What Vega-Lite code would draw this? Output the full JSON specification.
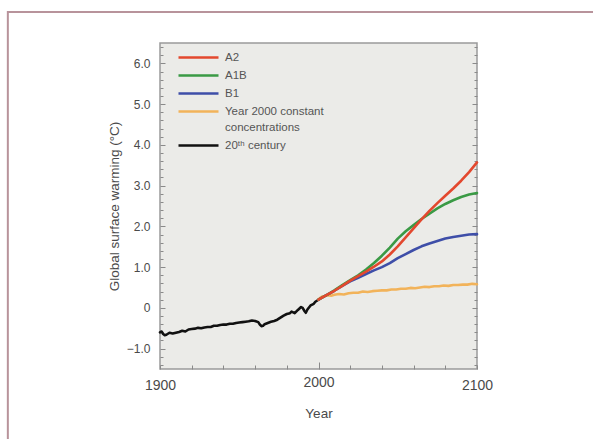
{
  "$schema": "https://vega.github.io/schema/vega-lite/v6.json",
  "autosize": {"type": "none"},
  "width": 317,
  "height": 326,
  "padding": {"left": 160, "top": 43, "right": 116, "bottom": 70},
  "background": "#ffffff",
  "config": {
    "font": "Liberation Sans",
    "view": {"fill": "#ebebe8", "stroke": "#9a9a9a", "strokeWidth": 1.5},
    "axis": {
      "domain": false,
      "grid": false,
      "labelFont": "Liberation Sans",
      "titleFont": "Liberation Sans",
      "labelColor": "#4a4a4a",
      "titleColor": "#4a4a4a",
      "titleFontWeight": "normal",
      "tickColor": "#8a8a8a",
      "tickWidth": 1,
      "labelOverlap": false
    }
  },
  "layer": [
    {
      "data": {"values": [{"frame": "outer"}]},
      "mark": {"type": "rect", "filled": false, "stroke": "#b8939b", "strokeWidth": 2},
      "encoding": {
        "x": {"datum": 1804, "type": "quantitative", "scale": {"domain": [1900, 2100], "nice": false, "zero": false}, "axis": null},
        "x2": {"datum": 2200},
        "y": {
          "datum": 7.26, "type": "quantitative",
          "scale": {"domain": [-1.5, 6.5], "nice": false, "zero": false},
          "axis": {
            "orient": "right",
            "title": null,
            "labels": false,
            "values": [-1.4,-1.2,-1,-0.8,-0.6,-0.4,-0.2,0,0.2,0.4,0.6,0.8,1,1.2,1.4,1.6,1.8,2,2.2,2.4,2.6,2.8,3,3.2,3.4,3.6,3.8,4,4.2,4.4,4.6,4.8,5,5.2,5.4,5.6,5.8,6,6.2,6.4],
            "tickSize": {"condition": {"test": "abs(datum.value - round(datum.value)) < 0.01", "value": -5}, "value": -3}
          }
        },
        "y2": {"datum": -4}
      }
    },
    {
      "data": {"values": [
        {"series": "20th century", "year": 1900, "warming": -0.60},
        {"series": "20th century", "year": 1901, "warming": -0.58},
        {"series": "20th century", "year": 1902, "warming": -0.64},
        {"series": "20th century", "year": 1903, "warming": -0.67},
        {"series": "20th century", "year": 1904, "warming": -0.66},
        {"series": "20th century", "year": 1906, "warming": -0.61},
        {"series": "20th century", "year": 1908, "warming": -0.63},
        {"series": "20th century", "year": 1910, "warming": -0.61},
        {"series": "20th century", "year": 1912, "warming": -0.59},
        {"series": "20th century", "year": 1914, "warming": -0.56},
        {"series": "20th century", "year": 1916, "warming": -0.58},
        {"series": "20th century", "year": 1918, "warming": -0.53},
        {"series": "20th century", "year": 1920, "warming": -0.52},
        {"series": "20th century", "year": 1922, "warming": -0.51},
        {"series": "20th century", "year": 1924, "warming": -0.49},
        {"series": "20th century", "year": 1926, "warming": -0.50},
        {"series": "20th century", "year": 1928, "warming": -0.48},
        {"series": "20th century", "year": 1930, "warming": -0.47},
        {"series": "20th century", "year": 1932, "warming": -0.47},
        {"series": "20th century", "year": 1934, "warming": -0.44},
        {"series": "20th century", "year": 1936, "warming": -0.44},
        {"series": "20th century", "year": 1938, "warming": -0.42},
        {"series": "20th century", "year": 1940, "warming": -0.41},
        {"series": "20th century", "year": 1942, "warming": -0.41},
        {"series": "20th century", "year": 1944, "warming": -0.39},
        {"series": "20th century", "year": 1946, "warming": -0.39},
        {"series": "20th century", "year": 1948, "warming": -0.37},
        {"series": "20th century", "year": 1950, "warming": -0.36},
        {"series": "20th century", "year": 1952, "warming": -0.35},
        {"series": "20th century", "year": 1954, "warming": -0.34},
        {"series": "20th century", "year": 1956, "warming": -0.33},
        {"series": "20th century", "year": 1958, "warming": -0.31},
        {"series": "20th century", "year": 1960, "warming": -0.32},
        {"series": "20th century", "year": 1962, "warming": -0.35},
        {"series": "20th century", "year": 1963, "warming": -0.41},
        {"series": "20th century", "year": 1964, "warming": -0.45},
        {"series": "20th century", "year": 1965, "warming": -0.44},
        {"series": "20th century", "year": 1966, "warming": -0.40},
        {"series": "20th century", "year": 1968, "warming": -0.37},
        {"series": "20th century", "year": 1970, "warming": -0.34},
        {"series": "20th century", "year": 1972, "warming": -0.32},
        {"series": "20th century", "year": 1974, "warming": -0.29},
        {"series": "20th century", "year": 1976, "warming": -0.24},
        {"series": "20th century", "year": 1978, "warming": -0.19},
        {"series": "20th century", "year": 1980, "warming": -0.15},
        {"series": "20th century", "year": 1982, "warming": -0.13},
        {"series": "20th century", "year": 1983, "warming": -0.09},
        {"series": "20th century", "year": 1985, "warming": -0.13},
        {"series": "20th century", "year": 1987, "warming": -0.05},
        {"series": "20th century", "year": 1989, "warming": 0.02},
        {"series": "20th century", "year": 1990, "warming": 0.00},
        {"series": "20th century", "year": 1991, "warming": -0.07},
        {"series": "20th century", "year": 1992, "warming": -0.12},
        {"series": "20th century", "year": 1993, "warming": -0.04},
        {"series": "20th century", "year": 1995, "warming": 0.06},
        {"series": "20th century", "year": 1997, "warming": 0.10},
        {"series": "20th century", "year": 1998, "warming": 0.15},
        {"series": "20th century", "year": 2000, "warming": 0.20},

        {"series": "Year 2000 constant concentrations", "year": 2000, "warming": 0.21},
        {"series": "Year 2000 constant concentrations", "year": 2002, "warming": 0.27},
        {"series": "Year 2000 constant concentrations", "year": 2004, "warming": 0.29},
        {"series": "Year 2000 constant concentrations", "year": 2006, "warming": 0.31},
        {"series": "Year 2000 constant concentrations", "year": 2008, "warming": 0.30},
        {"series": "Year 2000 constant concentrations", "year": 2010, "warming": 0.32},
        {"series": "Year 2000 constant concentrations", "year": 2013, "warming": 0.34},
        {"series": "Year 2000 constant concentrations", "year": 2016, "warming": 0.33},
        {"series": "Year 2000 constant concentrations", "year": 2019, "warming": 0.36},
        {"series": "Year 2000 constant concentrations", "year": 2022, "warming": 0.37},
        {"series": "Year 2000 constant concentrations", "year": 2025, "warming": 0.37},
        {"series": "Year 2000 constant concentrations", "year": 2028, "warming": 0.40},
        {"series": "Year 2000 constant concentrations", "year": 2031, "warming": 0.39},
        {"series": "Year 2000 constant concentrations", "year": 2034, "warming": 0.41},
        {"series": "Year 2000 constant concentrations", "year": 2037, "warming": 0.42},
        {"series": "Year 2000 constant concentrations", "year": 2040, "warming": 0.43},
        {"series": "Year 2000 constant concentrations", "year": 2043, "warming": 0.43},
        {"series": "Year 2000 constant concentrations", "year": 2046, "warming": 0.45},
        {"series": "Year 2000 constant concentrations", "year": 2049, "warming": 0.45},
        {"series": "Year 2000 constant concentrations", "year": 2052, "warming": 0.47},
        {"series": "Year 2000 constant concentrations", "year": 2055, "warming": 0.47},
        {"series": "Year 2000 constant concentrations", "year": 2058, "warming": 0.49},
        {"series": "Year 2000 constant concentrations", "year": 2061, "warming": 0.48},
        {"series": "Year 2000 constant concentrations", "year": 2064, "warming": 0.50},
        {"series": "Year 2000 constant concentrations", "year": 2067, "warming": 0.52},
        {"series": "Year 2000 constant concentrations", "year": 2070, "warming": 0.51},
        {"series": "Year 2000 constant concentrations", "year": 2073, "warming": 0.53},
        {"series": "Year 2000 constant concentrations", "year": 2076, "warming": 0.53},
        {"series": "Year 2000 constant concentrations", "year": 2079, "warming": 0.55},
        {"series": "Year 2000 constant concentrations", "year": 2082, "warming": 0.54},
        {"series": "Year 2000 constant concentrations", "year": 2085, "warming": 0.56},
        {"series": "Year 2000 constant concentrations", "year": 2088, "warming": 0.56},
        {"series": "Year 2000 constant concentrations", "year": 2091, "warming": 0.57},
        {"series": "Year 2000 constant concentrations", "year": 2094, "warming": 0.57},
        {"series": "Year 2000 constant concentrations", "year": 2097, "warming": 0.59},
        {"series": "Year 2000 constant concentrations", "year": 2100, "warming": 0.58},

        {"series": "B1", "year": 2000, "warming": 0.20},
        {"series": "B1", "year": 2005, "warming": 0.31},
        {"series": "B1", "year": 2010, "warming": 0.42},
        {"series": "B1", "year": 2015, "warming": 0.54},
        {"series": "B1", "year": 2020, "warming": 0.65},
        {"series": "B1", "year": 2025, "warming": 0.74},
        {"series": "B1", "year": 2030, "warming": 0.83},
        {"series": "B1", "year": 2035, "warming": 0.92},
        {"series": "B1", "year": 2040, "warming": 1.00},
        {"series": "B1", "year": 2045, "warming": 1.10},
        {"series": "B1", "year": 2050, "warming": 1.22},
        {"series": "B1", "year": 2055, "warming": 1.32},
        {"series": "B1", "year": 2060, "warming": 1.42},
        {"series": "B1", "year": 2065, "warming": 1.51},
        {"series": "B1", "year": 2070, "warming": 1.58},
        {"series": "B1", "year": 2075, "warming": 1.64},
        {"series": "B1", "year": 2080, "warming": 1.70},
        {"series": "B1", "year": 2085, "warming": 1.74},
        {"series": "B1", "year": 2090, "warming": 1.77},
        {"series": "B1", "year": 2095, "warming": 1.80},
        {"series": "B1", "year": 2100, "warming": 1.81},

        {"series": "A1B", "year": 2000, "warming": 0.20},
        {"series": "A1B", "year": 2005, "warming": 0.31},
        {"series": "A1B", "year": 2010, "warming": 0.43},
        {"series": "A1B", "year": 2015, "warming": 0.56},
        {"series": "A1B", "year": 2020, "warming": 0.68},
        {"series": "A1B", "year": 2025, "warming": 0.80},
        {"series": "A1B", "year": 2030, "warming": 0.94},
        {"series": "A1B", "year": 2035, "warming": 1.10},
        {"series": "A1B", "year": 2040, "warming": 1.28},
        {"series": "A1B", "year": 2045, "warming": 1.48},
        {"series": "A1B", "year": 2050, "warming": 1.70},
        {"series": "A1B", "year": 2055, "warming": 1.88},
        {"series": "A1B", "year": 2060, "warming": 2.03},
        {"series": "A1B", "year": 2065, "warming": 2.18},
        {"series": "A1B", "year": 2070, "warming": 2.31},
        {"series": "A1B", "year": 2075, "warming": 2.44},
        {"series": "A1B", "year": 2080, "warming": 2.55},
        {"series": "A1B", "year": 2085, "warming": 2.64},
        {"series": "A1B", "year": 2090, "warming": 2.72},
        {"series": "A1B", "year": 2095, "warming": 2.78},
        {"series": "A1B", "year": 2100, "warming": 2.82},

        {"series": "A2", "year": 2000, "warming": 0.20},
        {"series": "A2", "year": 2005, "warming": 0.31},
        {"series": "A2", "year": 2010, "warming": 0.42},
        {"series": "A2", "year": 2015, "warming": 0.54},
        {"series": "A2", "year": 2020, "warming": 0.67},
        {"series": "A2", "year": 2025, "warming": 0.78},
        {"series": "A2", "year": 2030, "warming": 0.89},
        {"series": "A2", "year": 2035, "warming": 1.01},
        {"series": "A2", "year": 2040, "warming": 1.14},
        {"series": "A2", "year": 2045, "warming": 1.31},
        {"series": "A2", "year": 2050, "warming": 1.51},
        {"series": "A2", "year": 2055, "warming": 1.73},
        {"series": "A2", "year": 2060, "warming": 1.95},
        {"series": "A2", "year": 2065, "warming": 2.17},
        {"series": "A2", "year": 2070, "warming": 2.38},
        {"series": "A2", "year": 2075, "warming": 2.57},
        {"series": "A2", "year": 2080, "warming": 2.75},
        {"series": "A2", "year": 2085, "warming": 2.93},
        {"series": "A2", "year": 2090, "warming": 3.12},
        {"series": "A2", "year": 2095, "warming": 3.33},
        {"series": "A2", "year": 2100, "warming": 3.57}
      ]},
      "mark": {"type": "line", "strokeWidth": 2.6, "strokeJoin": "round", "strokeCap": "round"},
      "encoding": {
        "x": {
          "field": "year", "type": "quantitative", "title": "Year",
          "scale": {"domain": [1900, 2100], "nice": false, "zero": false},
          "axis": {
            "orient": "bottom",
            "values": [1900, 1920, 1940, 1960, 1980, 2000, 2020, 2040, 2060, 2080, 2100],
            "labelExpr": "datum.value % 100 == 0 ? format(datum.value, 'd') : ''",
            "labelFlush": false,
            "labelFontSize": 14,
            "titleFontSize": 13.5,
            "labelPadding": 13,
            "titlePadding": 14,
            "tickSize": {"condition": {"test": "datum.value == 2000", "value": -7}, "value": -4}
          }
        },
        "y": {
          "field": "warming", "type": "quantitative", "title": "Global surface warming (°C)",
          "scale": {"domain": [-1.5, 6.5], "nice": false, "zero": false},
          "axis": {
            "orient": "left",
            "values": [-1.4,-1.2,-1,-0.8,-0.6,-0.4,-0.2,0,0.2,0.4,0.6,0.8,1,1.2,1.4,1.6,1.8,2,2.2,2.4,2.6,2.8,3,3.2,3.4,3.6,3.8,4,4.2,4.4,4.6,4.8,5,5.2,5.4,5.6,5.8,6,6.2,6.4],
            "labelExpr": "abs(datum.value - round(datum.value)) < 0.01 ? (datum.value == 0 ? '0' : format(datum.value, '.1f')) : ''",
            "labelFontSize": 12,
            "titleFontSize": 13.5,
            "labelPadding": 15,
            "titlePadding": 5,
            "tickSize": {"condition": {"test": "abs(datum.value - round(datum.value)) < 0.01", "value": -5}, "value": -3}
          }
        },
        "color": {
          "field": "series", "type": "nominal",
          "scale": {
            "domain": ["A2", "A1B", "B1", "Year 2000 constant concentrations", "20th century"],
            "range": ["#e3482e", "#3a9a45", "#3e4ea8", "#f2b35a", "#111111"]
          },
          "legend": {
            "orient": "none",
            "legendX": 17,
            "legendY": 9,
            "title": null,
            "padding": 0,
            "symbolType": "stroke",
            "symbolSize": 1600,
            "symbolStrokeWidth": 2.5,
            "clipHeight": 11,
            "labelFont": "Liberation Sans",
            "labelFontSize": 11.5,
            "labelColor": "#555555",
            "labelOffset": 5,
            "rowPadding": 6,
            "labelExpr": "datum.value == 'Year 2000 constant concentrations' ? ['Year 2000 constant', 'concentrations'] : datum.value == '20th century' ? '20ᵗʰ century' : datum.label",
            "labelLimit": 0,
            "encode": {
              "labels": {"update": {"lineHeight": {"value": 16}}}
            }
          }
        }
      }
    }
  ],
  "resolve": {"axis": {"x": "independent", "y": "independent"}}
}
